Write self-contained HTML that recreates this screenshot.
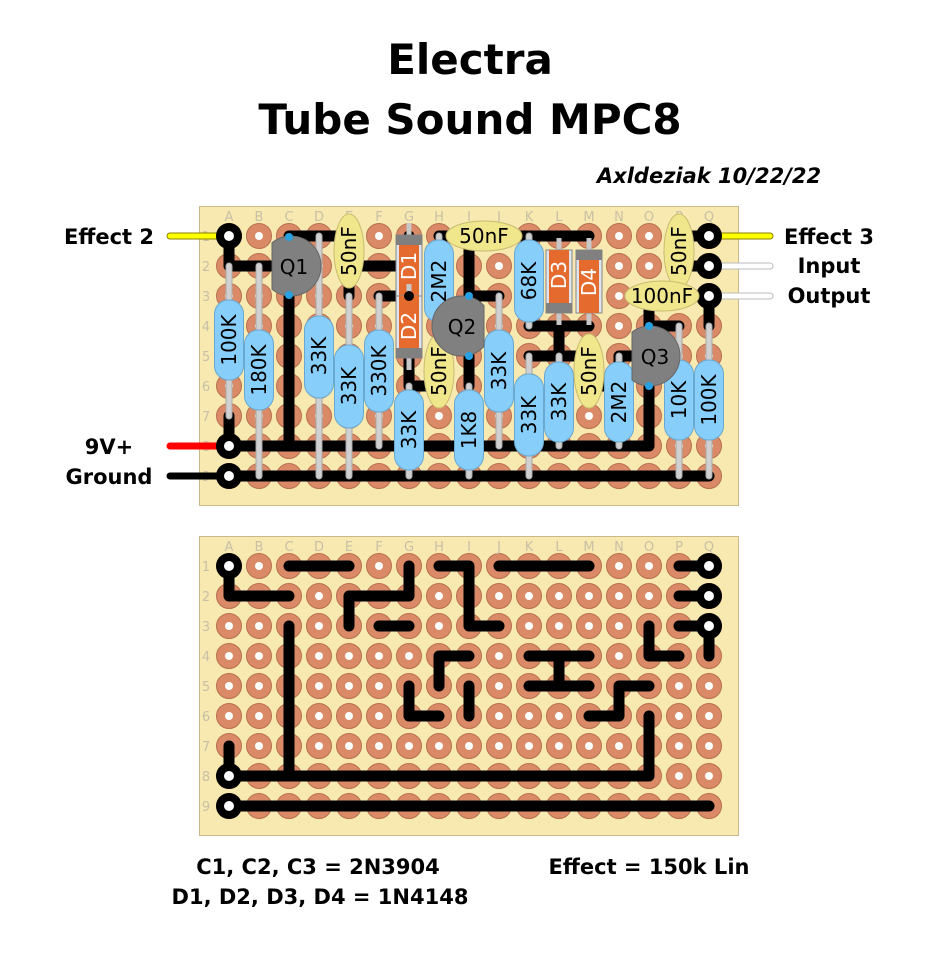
<!DOCTYPE html>
<html><head><meta charset="utf-8"><style>
html,body{margin:0;padding:0;background:#fff;}
svg{display:block;}
text{font-family:"DejaVu Sans","Liberation Sans",sans-serif;}
.lbl{font-weight:bold;font-size:21px;fill:#000;}
.grid{font-size:13px;fill:#c8c0a8;}
.ct{font-size:20px;fill:#000;}
</style></head><body>
<svg id="s" width="930" height="962" viewBox="0 0 930 962" xmlns="http://www.w3.org/2000/svg">
<text x="470" y="74" text-anchor="middle" style="font-weight:bold;font-size:42px">Electra</text>
<text x="470" y="134" text-anchor="middle" style="font-weight:bold;font-size:42px">Tube Sound MPC8</text>
<text x="709" y="183" text-anchor="middle" style="font-weight:bold;font-style:italic;font-size:21px">Axldeziak 10/22/22</text>

<rect x="199.5" y="206.5" width="539" height="299" fill="#f7e9b0" stroke="#c8b88a"/>
<rect x="199.5" y="536.5" width="539" height="299" fill="#f7e9b0" stroke="#c8b88a"/>
<g id="pads"></g>
<g id="labels" class="grid">
<text x="229" y="221" text-anchor="middle">A</text><text x="259" y="221" text-anchor="middle">B</text><text x="289" y="221" text-anchor="middle">C</text><text x="319" y="221" text-anchor="middle">D</text><text x="349" y="221" text-anchor="middle">E</text><text x="379" y="221" text-anchor="middle">F</text><text x="409" y="221" text-anchor="middle">G</text><text x="439" y="221" text-anchor="middle">H</text><text x="469" y="221" text-anchor="middle">I</text><text x="499" y="221" text-anchor="middle">J</text><text x="529" y="221" text-anchor="middle">K</text><text x="559" y="221" text-anchor="middle">L</text><text x="589" y="221" text-anchor="middle">M</text><text x="619" y="221" text-anchor="middle">N</text><text x="649" y="221" text-anchor="middle">O</text><text x="679" y="221" text-anchor="middle">P</text><text x="709" y="221" text-anchor="middle">Q</text>
<text x="229" y="551" text-anchor="middle">A</text><text x="259" y="551" text-anchor="middle">B</text><text x="289" y="551" text-anchor="middle">C</text><text x="319" y="551" text-anchor="middle">D</text><text x="349" y="551" text-anchor="middle">E</text><text x="379" y="551" text-anchor="middle">F</text><text x="409" y="551" text-anchor="middle">G</text><text x="439" y="551" text-anchor="middle">H</text><text x="469" y="551" text-anchor="middle">I</text><text x="499" y="551" text-anchor="middle">J</text><text x="529" y="551" text-anchor="middle">K</text><text x="559" y="551" text-anchor="middle">L</text><text x="589" y="551" text-anchor="middle">M</text><text x="619" y="551" text-anchor="middle">N</text><text x="649" y="551" text-anchor="middle">O</text><text x="679" y="551" text-anchor="middle">P</text><text x="709" y="551" text-anchor="middle">Q</text>
<text x="206" y="241" text-anchor="middle">1</text><text x="206" y="271" text-anchor="middle">2</text><text x="206" y="301" text-anchor="middle">3</text><text x="206" y="331" text-anchor="middle">4</text><text x="206" y="361" text-anchor="middle">5</text><text x="206" y="391" text-anchor="middle">6</text><text x="206" y="421" text-anchor="middle">7</text><text x="206" y="451" text-anchor="middle">8</text><text x="206" y="481" text-anchor="middle">9</text>
<text x="206" y="571" text-anchor="middle">1</text><text x="206" y="601" text-anchor="middle">2</text><text x="206" y="631" text-anchor="middle">3</text><text x="206" y="661" text-anchor="middle">4</text><text x="206" y="691" text-anchor="middle">5</text><text x="206" y="721" text-anchor="middle">6</text><text x="206" y="751" text-anchor="middle">7</text><text x="206" y="781" text-anchor="middle">8</text><text x="206" y="811" text-anchor="middle">9</text>
</g>
<g stroke-linecap="round">
<line x1="170" y1="236" x2="229" y2="236" stroke="#8a8000" stroke-width="7"/><line x1="170" y1="236" x2="229" y2="236" stroke="#ffff00" stroke-width="5"/>
<line x1="709" y1="236" x2="770" y2="236" stroke="#8a8000" stroke-width="7"/><line x1="709" y1="236" x2="770" y2="236" stroke="#ffff00" stroke-width="5"/>
<line x1="709" y1="266" x2="770" y2="266" stroke="#bbb" stroke-width="7"/><line x1="709" y1="266" x2="770" y2="266" stroke="#fff" stroke-width="5"/>
<line x1="709" y1="296" x2="770" y2="296" stroke="#bbb" stroke-width="7"/><line x1="709" y1="296" x2="770" y2="296" stroke="#fff" stroke-width="5"/>
<line x1="170" y1="446" x2="229" y2="446" stroke="#ff0000" stroke-width="7"/>
<line x1="170" y1="476" x2="229" y2="476" stroke="#000" stroke-width="7"/>
</g>
<g id="wires" fill="none" stroke="#000" stroke-width="11" stroke-linecap="round" stroke-linejoin="round"></g>
<g id="comps"></g>
<g class="lbl">
<text x="109" y="244" text-anchor="middle">Effect 2</text>
<text x="109" y="454" text-anchor="middle">9V+</text>
<text x="109" y="484" text-anchor="middle">Ground</text>
<text x="829" y="244" text-anchor="middle">Effect 3</text>
<text x="829" y="273" text-anchor="middle">Input</text>
<text x="829" y="303" text-anchor="middle">Output</text>
<text x="318" y="874" text-anchor="middle">C1, C2, C3 = 2N3904</text>
<text x="320" y="904" text-anchor="middle">D1, D2, D3, D4 = 1N4148</text>
<text x="649" y="874" text-anchor="middle">Effect = 150k Lin</text>
</g>
<g id="ctext" class="ct">
<text transform="translate(229,340) rotate(-90)" text-anchor="middle" dy="7">100K</text>
<text transform="translate(259,370) rotate(-90)" text-anchor="middle" dy="7">180K</text>
<text transform="translate(319,356) rotate(-90)" text-anchor="middle" dy="7">33K</text>
<text transform="translate(349,386) rotate(-90)" text-anchor="middle" dy="7">33K</text>
<text transform="translate(379,371) rotate(-90)" text-anchor="middle" dy="7">330K</text>
<text transform="translate(409,430) rotate(-90)" text-anchor="middle" dy="7">33K</text>
<text transform="translate(439,281) rotate(-90)" text-anchor="middle" dy="7">2M2</text>
<text transform="translate(469,430) rotate(-90)" text-anchor="middle" dy="7">1K8</text>
<text transform="translate(499,371) rotate(-90)" text-anchor="middle" dy="7">33K</text>
<text transform="translate(529,281) rotate(-90)" text-anchor="middle" dy="7">68K</text>
<text transform="translate(529,415) rotate(-90)" text-anchor="middle" dy="7">33K</text>
<text transform="translate(559,402) rotate(-90)" text-anchor="middle" dy="7">33K</text>
<text transform="translate(619,402) rotate(-90)" text-anchor="middle" dy="7">2M2</text>
<text transform="translate(679,400) rotate(-90)" text-anchor="middle" dy="7">10K</text>
<text transform="translate(709,400) rotate(-90)" text-anchor="middle" dy="7">100K</text>
<text transform="translate(349,251) rotate(-90)" text-anchor="middle" dy="7">50nF</text>
<text x="484" y="243" text-anchor="middle">50nF</text>
<text transform="translate(439,371) rotate(-90)" text-anchor="middle" dy="7">50nF</text>
<text transform="translate(589,371) rotate(-90)" text-anchor="middle" dy="7">50nF</text>
<text transform="translate(679,251) rotate(-90)" text-anchor="middle" dy="7">50nF</text>
<text x="662" y="303" text-anchor="middle">100nF</text>
<text transform="translate(409,266) rotate(-90)" text-anchor="middle" dy="7" fill="#fff">D1</text>
<text transform="translate(409,326) rotate(-90)" text-anchor="middle" dy="7" fill="#fff">D2</text>
<text transform="translate(559,275) rotate(-90)" text-anchor="middle" dy="7" fill="#fff">D3</text>
<text transform="translate(589,282) rotate(-90)" text-anchor="middle" dy="7" fill="#fff">D4</text>
<text x="294" y="274" text-anchor="middle">Q1</text>
<text x="462" y="334" text-anchor="middle">Q2</text>
<text x="655" y="364" text-anchor="middle">Q3</text>
</g>
</svg>
<script>
var NS="http://www.w3.org/2000/svg";
function el(p,t,a){var e=document.createElementNS(NS,t);for(var k in a)e.setAttribute(k,a[k]);p.appendChild(e);return e;}
function X(c){return 229+30*c;}
var pads=document.getElementById('pads');
[236,566].forEach(function(y0){
 for(var r=0;r<9;r++)for(var c=0;c<17;c++){
  el(pads,'circle',{cx:X(c),cy:y0+30*r,r:12.5,fill:'#da8a66',stroke:'#b86f50','stroke-width':1});
  el(pads,'circle',{cx:X(c),cy:y0+30*r,r:4,fill:'#fff'});
 }
});
var C={A:0,B:1,C:2,D:3,E:4,F:5,G:6,H:7,I:8,J:9,K:10,L:11,M:12,N:13,O:14,P:15,Q:16};
var W=["C1 E1","G1 G2 E2 E3","H1 I1 I3 J3","J1 M1","P1 Q1","P2 Q2","P3 Q3 Q4","A1 A2 C2","C3 C8","F3 G3",
"H5 H4 I4","G5 G6 H6","I5 I6","K4 M4","L4 L5","K5 M5","O5 N5 N6 M6","O3 O4 P4","O6 O8 A8","A7 A8","A9 Q9"];
var wires=document.getElementById('wires');
[236,566].forEach(function(y0){
 W.forEach(function(s){
  var pts=s.split(' ').map(function(p){return X(C[p[0]])+','+(y0+30*(parseInt(p.slice(1))-1));}).join(' ');
  el(wires,'polyline',{points:pts});
 });
 [["A",1],["Q",1],["Q",2],["Q",3],["A",8],["A",9]].forEach(function(t){
  el(wires,'circle',{cx:X(C[t[0]]),cy:y0+30*(t[1]-1),r:13,fill:'#000',stroke:'none'});
  el(wires,'circle',{cx:X(C[t[0]]),cy:y0+30*(t[1]-1),r:5,fill:'#fff',stroke:'none'});
 });
});
var cp=document.getElementById('comps');
function Y(r){return 236+30*(r-1);}
var R=[["A",2,7,300,380],["B",2,9,330,410],["D",1,9,316,398],["E",3,9,345,428],["F",3,8,330,412],["G",6,9,390,470],
["H",1,4,240,322],["I",6,9,390,470],["J",3,8,330,412],["K",1,4,240,322],["K",5,9,374,456],["L",5,8,362,442],
["N",5,8,362,442],["P",4,9,360,440],["Q",4,9,360,440]];
R.forEach(function(a){var x=X(C[a[0]]);
 el(cp,'line',{x1:x,y1:Y(a[1]),x2:x,y2:Y(a[2]),stroke:'#a8a8a8','stroke-width':7,'stroke-linecap':'round'});
 el(cp,'line',{x1:x,y1:Y(a[1]),x2:x,y2:Y(a[2]),stroke:'#d0d0d0','stroke-width':5,'stroke-linecap':'round'});
 el(cp,'rect',{x:x-14.5,y:a[3],width:29,height:a[4]-a[3],rx:14,fill:'#87cefa',stroke:'#6aa8d0','stroke-width':1});
 el(cp,'rect',{x:x-12,y:a[3]+14,width:24,height:a[4]-a[3]-28,fill:'#87cefa'});
});
function diode(x,y1,y2,capTop){
 el(cp,'line',{x1:x,y1:y1-12,x2:x,y2:y2+12,stroke:'#c8c8c8','stroke-width':5});
 el(cp,'rect',{x:x-13,y:y1,width:26,height:y2-y1,fill:'#dde4ee',stroke:'#888'});
 el(cp,'rect',{x:x-10,y:y1,width:20,height:y2-y1,fill:'#e46a2e'});
 el(cp,'rect',{x:x-13,y:capTop?y1:y2-10,width:26,height:10,fill:'#808080'});
}
diode(409,235,296,true);diode(409,296,358,false);
el(cp,'circle',{cx:409,cy:296,r:5,fill:'#000'});
diode(559,250,313,false);diode(589,250,313,true);
[[349,251,15,37],[484,236,38,15],[439,371,15,37],[589,371,15,37],[679,251,15,37],[662,296,37,15]].forEach(function(c){
 el(cp,'ellipse',{cx:c[0],cy:c[1],rx:c[2],ry:c[3],fill:'#f0e68c',stroke:'#c8bc70','stroke-width':1});
});
function tr(cx,cy,flatX,left){
 var r=30,dx=Math.abs(cx-flatX),h=Math.sqrt(r*r-dx*dx);
 var d=left? "M"+flatX+","+(cy-h)+" A30,30 0 1,1 "+flatX+","+(cy+h)+" Z" : "M"+flatX+","+(cy-h)+" A30,30 0 1,0 "+flatX+","+(cy+h)+" Z";
 el(cp,'path',{d:d,fill:'#808080',stroke:'#666','stroke-width':1});
}
tr(291,266,272,true);
el(cp,'circle',{cx:289,cy:237,r:4,fill:'#29a0e0'});el(cp,'circle',{cx:289,cy:295,r:4,fill:'#29a0e0'});
tr(462,326,484,false);
el(cp,'circle',{cx:469,cy:296,r:4,fill:'#29a0e0'});el(cp,'circle',{cx:469,cy:356,r:4,fill:'#29a0e0'});
tr(650,356,632,true);
el(cp,'circle',{cx:649,cy:326,r:4,fill:'#29a0e0'});el(cp,'circle',{cx:649,cy:386,r:4,fill:'#29a0e0'});
</script>
</body></html>
